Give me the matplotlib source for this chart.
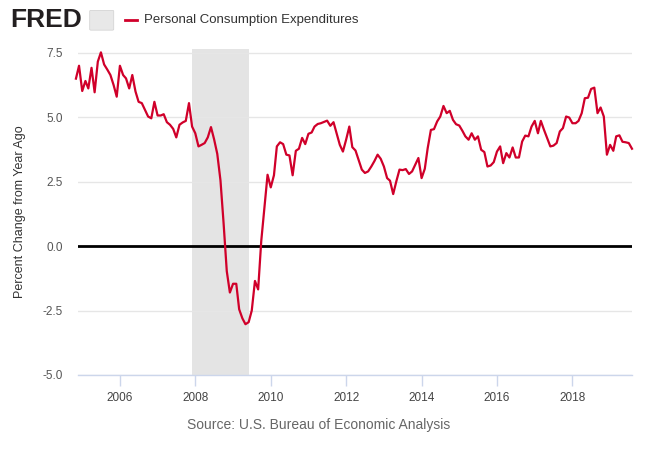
import numpy as np
import pandas as pd
import matplotlib
matplotlib.use('Agg')
import matplotlib.pyplot as plt
import matplotlib.dates as mdates
from matplotlib.patches import FancyBboxPatch

plt.rcParams['font.family'] = ['Liberation Sans', 'DejaVu Sans']

# Monthly percent change from year ago, Nov 2004 - Aug 2019
start_month = '2004-11-01'
pce_2004 = [6.5, 7.0]
pce_2005 = [6.02, 6.41, 6.12, 6.92, 5.97, 7.16, 7.52, 7.05, 6.85, 6.64, 6.25, 5.8]
pce_2006 = [7.0, 6.64, 6.51, 6.12, 6.64, 6.0, 5.6, 5.55, 5.29, 5.03, 4.96, 5.6]
pce_2007 = [5.07, 5.07, 5.12, 4.81, 4.71, 4.55, 4.22, 4.71, 4.8, 4.86, 5.55, 4.64]
pce_2008 = [4.38, 3.87, 3.93, 4.0, 4.22, 4.62, 4.15, 3.58, 2.55, 0.9, -0.97, -1.8]
pce_2009 = [-1.46, -1.46, -2.45, -2.8, -3.03, -2.95, -2.5, -1.35, -1.68, 0.2, 1.5, 2.77]
pce_2010 = [2.28, 2.75, 3.87, 4.03, 3.96, 3.55, 3.52, 2.75, 3.7, 3.78, 4.2, 3.96]
pce_2011 = [4.36, 4.41, 4.64, 4.74, 4.77, 4.82, 4.87, 4.67, 4.81, 4.38, 3.93, 3.67]
pce_2012 = [4.13, 4.64, 3.84, 3.71, 3.35, 2.97, 2.84, 2.9, 3.09, 3.3, 3.55, 3.39]
pce_2013 = [3.09, 2.64, 2.54, 2.02, 2.51, 2.97, 2.95, 2.99, 2.8, 2.9, 3.16, 3.42]
pce_2014 = [2.64, 3.0, 3.8, 4.51, 4.54, 4.84, 5.03, 5.44, 5.16, 5.25, 4.9, 4.73]
pce_2015 = [4.68, 4.47, 4.26, 4.13, 4.38, 4.13, 4.26, 3.74, 3.65, 3.09, 3.13, 3.26]
pce_2016 = [3.67, 3.87, 3.22, 3.61, 3.44, 3.83, 3.44, 3.44, 4.06, 4.29, 4.26, 4.64]
pce_2017 = [4.86, 4.38, 4.86, 4.51, 4.19, 3.87, 3.9, 4.0, 4.45, 4.58, 5.03, 4.99]
pce_2018 = [4.77, 4.77, 4.86, 5.16, 5.74, 5.76, 6.1, 6.15, 5.16, 5.38, 5.03, 3.55]
pce_2019 = [3.93, 3.7, 4.26, 4.3, 4.05, 4.03, 4.0, 3.78]

recession_start = '2007-12-01'
recession_end = '2009-06-01'

y_ticks = [-5.0, -2.5, 0.0, 2.5, 5.0, 7.5]
x_tick_years = [2006, 2008, 2010, 2012, 2014, 2016, 2018]

values = (pce_2004 + pce_2005 + pce_2006 + pce_2007 + pce_2008 + pce_2009
          + pce_2010 + pce_2011 + pce_2012 + pce_2013 + pce_2014 + pce_2015
          + pce_2016 + pce_2017 + pce_2018 + pce_2019)
dates = pd.date_range(start_month, periods=len(values), freq='MS')

fig = plt.figure(figsize=(6.5, 4.5), dpi=100)
ax = fig.add_axes([0.12, 0.1667, 0.8523, 0.7244])

ax.axvspan(pd.Timestamp(recession_start), pd.Timestamp(recession_end),
           color='#e4e4e4', lw=0, zorder=0)
ax.axhline(0, color='black', lw=2, zorder=2)
ax.plot(dates, values, color='#d0002a', lw=1.6, zorder=3, clip_on=False)

ax.set_xlim(dates[0] + pd.Timedelta(days=20), dates[-1])
ax.set_ylim(-5, 7.65)
ax.set_yticks(y_ticks)
ax.set_yticklabels([f'{v:.1f}' for v in y_ticks])
ax.set_xticks([pd.Timestamp(f'{y}-01-01') for y in x_tick_years])
ax.xaxis.set_major_formatter(mdates.DateFormatter('%Y'))

ax.grid(axis='y', color='#e6e6e6', lw=1, zorder=1)
for s in ['top', 'right', 'left']:
    ax.spines[s].set_visible(False)
ax.spines['bottom'].set_color('#ccd6eb')
ax.spines['bottom'].set_linewidth(1)
ax.tick_params(axis='x', colors='#ccd6eb', length=8, width=1, labelcolor='#444444',
               labelsize=8.5, pad=4)
ax.tick_params(axis='y', length=0, labelcolor='#555555', labelsize=8.5, pad=11)
ax.set_ylabel('Percent Change from Year Ago', fontsize=9, color='#333333', labelpad=12)

# header: logo and legend
fig.text(0.015, 0.955, 'FRED', fontsize=19, fontweight='bold', color='#231f20',
         va='center', ha='left')
icon = FancyBboxPatch((0.14, 0.935), 0.033, 0.04, boxstyle='round,pad=0.002',
                      transform=fig.transFigure, facecolor='#e8e8e8',
                      edgecolor='#d0d0d0', lw=0.5)
fig.patches.append(icon)
fig.add_artist(plt.Line2D([0.193, 0.211], [0.955, 0.955], color='#d0002a', lw=2,
                          transform=fig.transFigure))
fig.text(0.222, 0.955, 'Personal Consumption Expenditures', fontsize=9.5,
         color='#333333', va='center', ha='left')

fig.text(0.49, 0.055, 'Source: U.S. Bureau of Economic Analysis', fontsize=10,
         color='#666666', ha='center', va='center')

fig.savefig('out.png', dpi=100, facecolor='white')
